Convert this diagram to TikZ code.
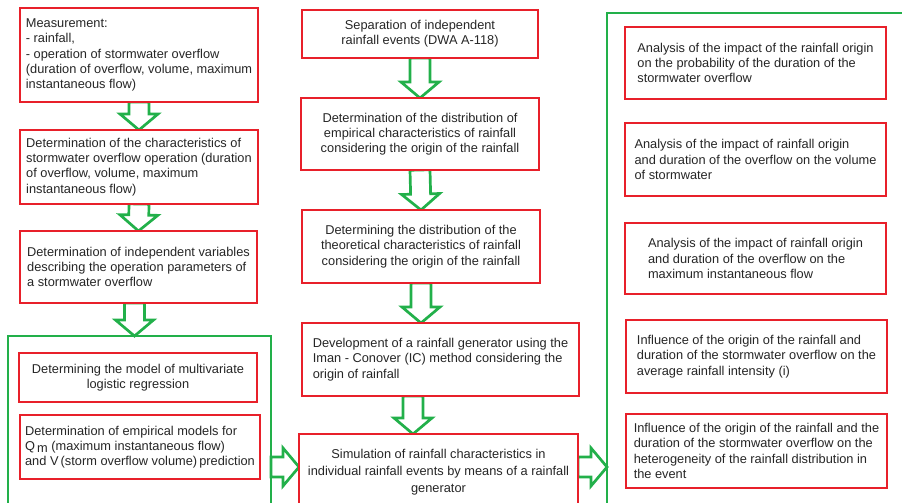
\documentclass[tikz,border=0pt]{standalone}
\usepackage{fontspec}
\setmainfont{Liberation Sans}
\usepackage{tikz}
\usetikzlibrary{backgrounds}
\usetikzlibrary{calc,positioning}
\definecolor{boxred}{RGB}{232,32,42}
\definecolor{arrgreen}{RGB}{34,176,74}

\begin{document}
\begin{tikzpicture}[x=1pt, y=-1pt,
every node/.style={draw=boxred,line width=2.9pt,fill=white,inner sep=0pt,outer sep=0pt,
	font=\fontsize{12.8}{15.3}\selectfont,align=left,text=black!85},
grp/.style={draw=arrgreen,fill=none,line width=2.5pt},
hollow/.style={draw=arrgreen,line width=2.7pt,line join=miter,
	to path={($(\tikztostart)!10pt!90:(\tikztotarget)$)
	-- ($($(\tikztotarget)!16pt!(\tikztostart)$)!10pt!90:(\tikztotarget)$)
	-- ($($(\tikztotarget)!16pt!(\tikztostart)$)!19pt!90:(\tikztotarget)$)
	-- (\tikztotarget)
	-- ($($(\tikztotarget)!16pt!(\tikztostart)$)!19pt!-90:(\tikztotarget)$)
	-- ($($(\tikztotarget)!16pt!(\tikztostart)$)!10pt!-90:(\tikztotarget)$)
	-- ($(\tikztostart)!10pt!-90:(\tikztotarget)$) -- cycle}}]
\useasboundingbox (0,0) rectangle (902,503);
% left column
\node[minimum width=238pt,minimum height=94pt] (meas) at (139,55) {Measurement:\\- rainfall,\\-  operation of stormwater overflow\\(duration of overflow, volume, maximum\\instantaneous flow)};
\node[minimum width=238pt,minimum height=74pt] (charop) at (139,167) {Determination of the characteristics of\\stormwater overflow operation (duration\\of overflow, volume, maximum\\instantaneous flow)};
\node[minimum width=237pt,minimum height=72pt] (indvar) at (138.5,267) {Determination of independent variables\\describing the operation parameters of\\a stormwater overflow};
\node[grp,minimum width=263pt,minimum height=184pt] (leftgrp) at (139.5,428) {};
\node[align=center,minimum width=238pt,minimum height=49pt] (logreg) at (138,377.5) {Determining the model of multivariate\\logistic regression};
\node[minimum width=240pt,minimum height=64pt] (empmod) at (140,447) {Determination of empirical models for\\Q\,\raisebox{-2pt}{m} (maximum instantaneous flow)\\and V\,(storm overflow volume)\,prediction};
% middle column
\node[align=center,minimum width=236pt,minimum height=48pt] (sep) at (420,34) {Separation of independent\\rainfall events (DWA A-118)};
\node[align=center,minimum width=238pt,minimum height=72pt] (empdist) at (420,134) {Determination of the distribution of\\empirical characteristics of rainfall\\considering the origin of the rainfall};
\node[align=center,minimum width=238pt,minimum height=73pt] (theodist) at (421,246.5) {Determining the distribution of the\\theoretical characteristics of rainfall\\considering the origin of the rainfall};
\node[minimum width=277pt,minimum height=73pt] (gen) at (440.5,359.5) {Development of a rainfall generator using the\\Iman - Conover (IC) method considering the\\origin of rainfall};
\node[align=center,font=\fontsize{12.8}{17}\selectfont,minimum width=279pt,minimum height=76pt] (sim) at (438.5,472) {Simulation of rainfall characteristics in\\individual rainfall events by means of a rainfall\\generator};
% right column
\node[grp,minimum width=313pt,minimum height=507pt] (rightgrp) at (763.5,266.5) {};
\node[minimum width=261pt,minimum height=72pt] (durprob) at (755.5,63) {Analysis of the impact of the rainfall origin\\on the probability of the duration of the\\stormwater overflow};
\node[minimum width=261pt,minimum height=73pt] (vol) at (755.5,159.5) {Analysis of the impact of  rainfall origin\\and duration of the overflow on the volume\\of stormwater};
\node[minimum width=261pt,minimum height=71pt] (maxflow) at (755.5,258.5) {Analysis of the impact of rainfall origin\\and duration of the overflow on the\\maximum instantaneous flow};
\node[minimum width=261pt,minimum height=73pt] (intens) at (756.5,356.5) {Influence of the origin of the rainfall and\\duration of the stormwater overflow on the\\average rainfall intensity (i)};
\node[minimum width=261pt,minimum height=74pt] (hetero) at (756.5,451) {Influence of the origin of the rainfall and the\\duration of the stormwater overflow on the\\heterogeneity of the rainfall distribution in\\the event};
\begin{scope}[on background layer]
	\draw[hollow] (meas.south) to (charop.north);
	\draw[hollow] (charop.south) to (indvar.north);
	\draw[hollow] ([xshift=-4pt]indvar.south) to ([xshift=-4pt]indvar.south |- leftgrp.north);
	\draw[hollow] (sep.south) to (empdist.north);
	\draw[hollow] (empdist.south) to (theodist.north);
	\draw[hollow] (theodist.south) to (theodist.south |- gen.north);
	\draw[hollow] ([xshift=-8pt]theodist.south |- gen.south) to ([xshift=-8pt]theodist.south |- sim.north);
	\draw[hollow] (leftgrp.east |- 0,467) to (sim.west |- 0,467);
	\draw[hollow] (sim.east |- 0,467) to (rightgrp.west |- 0,467);
\end{scope}
\end{tikzpicture}
\end{document}
